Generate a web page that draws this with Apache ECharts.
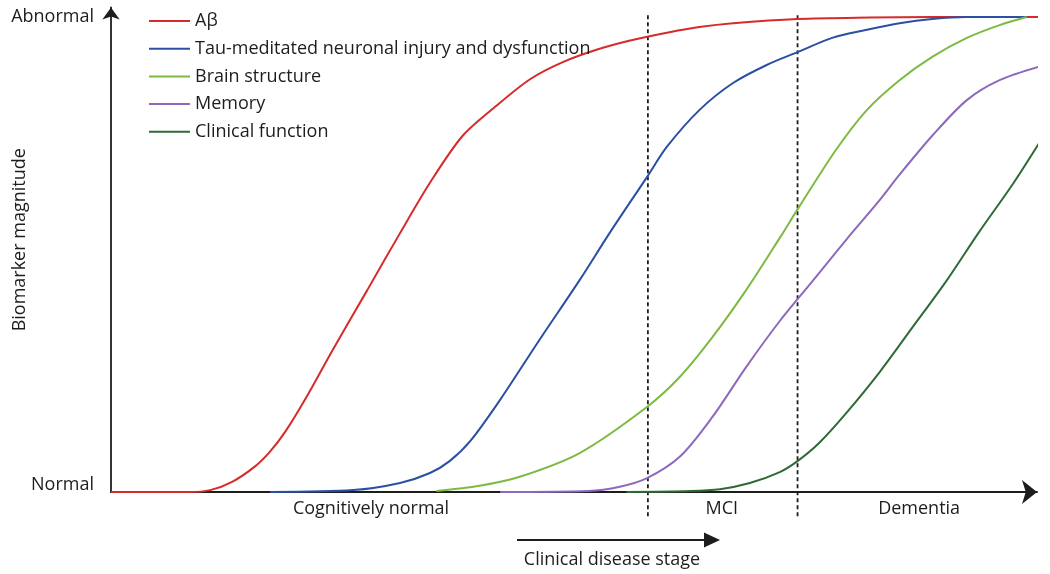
<!DOCTYPE html>
<html>
<head>
<meta charset="utf-8">
<script src="https://cdn.jsdelivr.net/npm/echarts@6/dist/echarts.min.js"></script>
<style>
  html, body { margin: 0; padding: 0; background: #fff; }
  #chart { width: 1050px; height: 574px; }
</style>
</head>
<body>
<div id="chart"></div>
<script>
// curves: [disease progression, biomarker magnitude %]
const abeta = [[0, 0], [8.4, 0], [10.6, 0.4], [13.0, 2.2], [15.4, 5.4], [17.0, 8.5], [18.6, 12.6], [20.9, 20], [23.7, 29.9], [27.4, 42.5], [30.9, 54.5], [34.1, 65.1], [37.6, 75], [41.2, 81.3], [44.8, 86.9], [48.3, 90.5], [51.9, 93.1], [55.4, 95], [59.7, 96.8], [62.9, 97.9], [66.5, 98.7], [73.4, 99.6], [81.1, 99.9], [87.8, 100], [100, 100]];
const tau = [[17.0, 0], [25.9, 0.4], [30.9, 1.9], [34.1, 4.0], [36.2, 6.5], [38.4, 10.7], [41.6, 19.4], [45.8, 32], [50.1, 44.6], [53.3, 54.5], [57.3, 66.3], [59.4, 72.6], [62.9, 80.4], [66.5, 86.1], [70.1, 89.9], [73.4, 92.6], [77.1, 95.6], [80.8, 97.3], [84.3, 98.7], [87.8, 99.6], [91.5, 100], [97.9, 100]];
const brain = [[34.8, 0.2], [39.4, 1.3], [43.7, 3.2], [50.1, 8.2], [57.3, 17.9], [60.8, 24.2], [64.3, 32.6], [67.9, 42.5], [71.5, 53.5], [73.4, 59.5], [77.5, 72], [80.8, 80.4], [84.3, 86.7], [87.8, 91.6], [91.5, 95.6], [95, 98.3], [97.9, 100]];
const memory = [[41.6, 0], [51, 0.2], [54.4, 1.1], [57.3, 2.9], [60.8, 7.4], [64.3, 15.8], [67.9, 26.3], [71.5, 36], [75, 44.4], [78.6, 53.1], [82.2, 61.5], [84.3, 66.8], [87.8, 75], [91.5, 82.5], [95, 86.7], [99.5, 89.7]];
const clinical = [[55.1, 0], [61.9, 0.2], [65.1, 0.6], [68.3, 1.9], [71.5, 4.2], [73.4, 6.5], [75.7, 10.3], [78.6, 16.6], [82.2, 25.3], [85.7, 34.7], [89.3, 44.4], [92.8, 54.7], [96.4, 64.8], [99.3, 73.7]];

const seriesNames = ["Aβ", "Tau-meditated neuronal injury and dysfunction", "Brain structure", "Memory", "Clinical function"];
const stageNames = ["Cognitively normal", "MCI", "Dementia"];
const stagePos = [27.8, 65.3, 86.4];
const stageBounds = [57.4, 73.4];
const boundRange = [-5.1, 100.8];
const levelNames = ["Normal", "Abnormal"];
const levelPos = [0, 100];

const colors = ["#d52b2a", "#2b50a2", "#7dba42", "#8d69bd", "#2e6a37"];
const ink = "#1d1d1b";
const font = '"Open Sans", "Noto Sans", sans-serif';
const fs = 18;

const chart = echarts.init(document.getElementById("chart"), null, { renderer: "canvas" });

const curveSeries = [abeta, tau, brain, memory, clinical].map((data, i) => ({
  name: seriesNames[i],
  type: "line",
  data: data,
  smooth: 0.3,
  showSymbol: false,
  symbol: "none",
  clip: false,
  z: 3,
  lineStyle: { color: colors[i], width: 2 },
  itemStyle: { color: colors[i] },
}));

// stage boundaries (dashed)
const boundSeries = stageBounds.map((x) => ({
  type: "line",
  data: boundRange.map((y) => [x, y]),
  showSymbol: false,
  symbol: "none",
  clip: false,
  silent: true,
  z: 2,
  lineStyle: { color: ink, width: 1.8, type: [4, 3] },
}));

const option = {
  backgroundColor: "#fff",
  animation: false,
  textStyle: { fontFamily: font, color: ink },
  grid: { left: 111, right: 13, top: 7.5, bottom: 82, outerBoundsMode: "none", containLabel: false },
  legend: {
    data: seriesNames,
    orient: "vertical",
    left: 144,
    top: 6,
    icon: "rect",
    itemWidth: 41,
    itemHeight: 2,
    itemGap: 7.7,
    selectedMode: false,
    textStyle: { fontSize: fs, lineHeight: 20, color: ink, fontFamily: font },
  },
  xAxis: {
    type: "value",
    min: 0,
    max: 99,
    splitLine: { show: false },
    axisTick: { show: false },
    axisLine: {
      lineStyle: { color: ink, width: 1.8 },
      symbol: ["none", "arrow"],
      symbolSize: [18, 15],
    },
    axisLabel: {
      customValues: stagePos,
      formatter: (v) => stageNames[stagePos.indexOf(v)] || "",
      fontSize: fs,
      color: ink,
      margin: 8,
    },
  },
  yAxis: {
    type: "value",
    min: 0,
    max: 102,
    splitLine: { show: false },
    axisTick: { show: false },
    axisLine: {
      lineStyle: { color: ink, width: 1.8 },
      symbol: ["none", "arrow"],
      symbolSize: [13, 12],
    },
    axisLabel: {
      customValues: levelPos,
      formatter: (v) => (v === 0 ? "{lo|" + levelNames[0] + "}" : levelNames[1]),
      fontSize: fs,
      color: ink,
      margin: 17,
      rich: { lo: { fontSize: fs, color: ink, padding: [0, 0, 14, 0] } },
    },
    name: "Biomarker magnitude",
    nameLocation: "middle",
    nameRotate: 90,
    nameGap: 82,
    nameMoveOverlap: false,
    nameTextStyle: { fontSize: fs, color: ink, padding: [0, 0, 0, 20] },
  },
  graphic: [
    {
      type: "line",
      shape: { x1: 517, y1: 540, x2: 706, y2: 540 },
      style: { stroke: ink, lineWidth: 2 },
    },
    {
      type: "polygon",
      shape: { points: [[704, 532.5], [720, 540], [704, 547.5]] },
      style: { fill: ink },
    },
    {
      type: "text",
      x: 612,
      y: 560,
      style: {
        text: "Clinical disease stage",
        font: fs + "px " + font,
        fill: ink,
        align: "center",
        verticalAlign: "middle",
      },
    },
  ],
  series: curveSeries.concat(boundSeries),
};

chart.setOption(option);
</script>
</body>
</html>
